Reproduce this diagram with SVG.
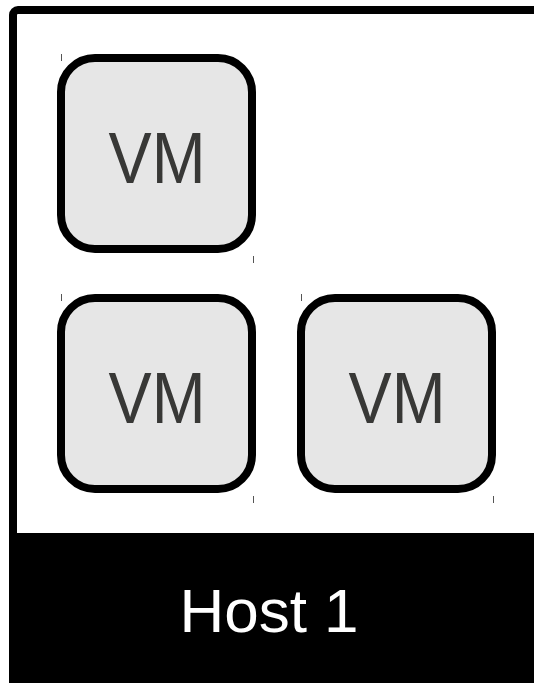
<svg xmlns="http://www.w3.org/2000/svg" width="534" height="684" viewBox="0 0 534 684">
  <style>
    .frame { fill: #ffffff; stroke: #000000; stroke-width: 8; }
    .band { fill: #000000; }
    .vm rect { fill: #e6e6e6; stroke: #000000; stroke-width: 8; }
    .vm text { font-family: "Liberation Sans", Arial, sans-serif; font-size: 73px; fill: #383836; text-anchor: middle; }
    .tick { stroke: #555555; stroke-width: 1; }
    .host-label { font-family: "Liberation Sans", Arial, sans-serif; font-size: 62px; fill: #ffffff; text-anchor: middle; }
  </style>

  <!-- host container -->
  <g id="host1">
    <rect class="frame" x="13" y="10" width="560" height="669" rx="5" ry="5"/>
    <rect class="band" x="9" y="533" width="560" height="150"/>
    <text class="host-label" x="269" y="632">Host 1</text>
  </g>

  <!-- virtual machines -->
  <g id="vm1" class="vm">
    <rect x="61" y="58" width="191" height="191" rx="34" ry="34"/>
    <text x="157" y="183" textLength="97" lengthAdjust="spacingAndGlyphs">VM</text>
    <line class="tick" x1="61.5" y1="54" x2="61.5" y2="61"/>
    <line class="tick" x1="253.5" y1="256" x2="253.5" y2="263"/>
  </g>
  <g id="vm2" class="vm">
    <rect x="61" y="298" width="191" height="191" rx="34" ry="34"/>
    <text x="157" y="423" textLength="97" lengthAdjust="spacingAndGlyphs">VM</text>
    <line class="tick" x1="61.5" y1="294" x2="61.5" y2="301"/>
    <line class="tick" x1="253.5" y1="496" x2="253.5" y2="503"/>
  </g>
  <g id="vm3" class="vm">
    <rect x="301" y="298" width="191" height="191" rx="34" ry="34"/>
    <text x="397" y="423" textLength="97" lengthAdjust="spacingAndGlyphs">VM</text>
    <line class="tick" x1="301.5" y1="294" x2="301.5" y2="301"/>
    <line class="tick" x1="493.5" y1="496" x2="493.5" y2="503"/>
  </g>
</svg>
